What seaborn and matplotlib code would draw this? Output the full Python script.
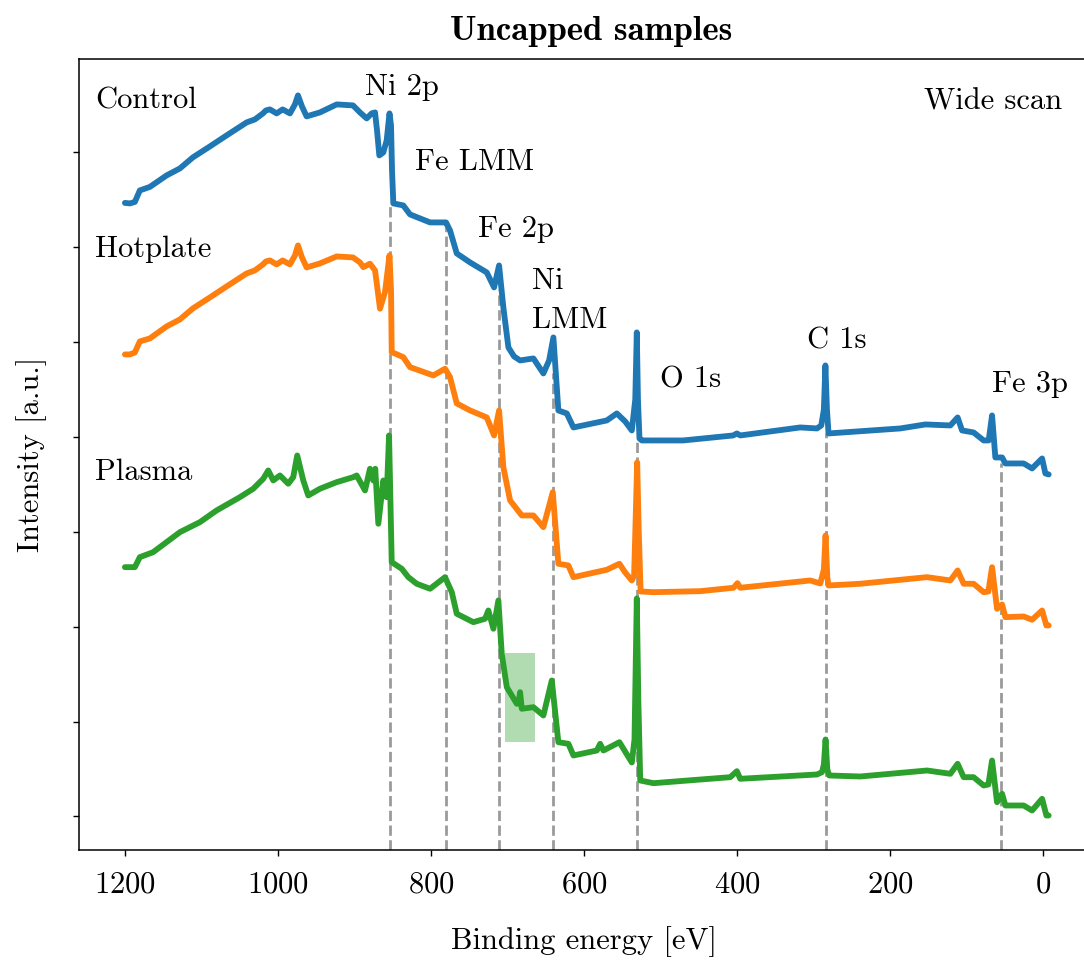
import numpy as np
import pandas as pd
import matplotlib
matplotlib.use("Agg")
import matplotlib.pyplot as plt
import seaborn as sns

# ---------------- data (binding energy in eV, intensity in a.u., curves already stacked) -------------
energy_control = [1200, 1193.5, 1187.0, 1180.5, 1167.4, 1145.5, 1128.1, 1111.2, 1088.9, 1067.1, 1040.9,
                  1030.1, 1019.6, 1015.7, 1010.5, 1001.7, 993.9, 984.3, 977.8, 973.8, 968.6, 962.5, 945.1,
                  923.2, 901.9, 892.8, 884.0, 877.5, 873.1, 870.5, 867.5, 862.3, 857.9, 854.2, 852.2, 850.9,
                  849.2, 836.2, 827.4, 801.2, 784.2, 780.3, 775.1, 766.3, 748.9, 727.1, 717.5, 711.0, 705.4,
                  698.8, 691.4, 683.5, 666.1, 653.1, 645.6, 640.0, 633.5, 622.5, 613.8, 570.2, 557.1, 546.2,
                  537.5, 533.0, 531.0, 529.5, 527.5, 524.4, 470.4, 405.0, 400.2, 395.8, 317.4, 295.5, 289.9,
                  286.5, 284.5, 282.5, 280.4, 186.6, 153.9, 121.2, 111.7, 105.9, 90.8, 77.7, 71.1, 66.7, 62.4,
                  53.6, 49.3, 25.4, 14.4, 1.3, -3.0, -7.3]
intensity_control = [646.5, 646, 647.5, 659, 662.5, 674, 681, 692, 703, 714, 727, 730, 736, 739, 740, 736,
                     740, 736, 745, 754, 743, 733, 737, 745, 744, 737, 731, 736, 737, 719, 694, 697, 709, 736,
                     724, 679, 646, 644, 635, 627, 627, 627, 619, 596, 587, 577, 562, 584, 542, 502, 493, 489,
                     491, 476, 489, 512, 439, 436, 422, 429, 436, 428, 419, 450, 517, 450, 411, 409, 409, 414,
                     416, 414, 422, 421, 424, 440, 484, 440, 416, 421, 425, 424, 432, 419, 417, 409, 409, 434,
                     392, 392, 386, 386, 381, 391, 376, 375]

energy_hotplate = [1200, 1193.5, 1187.0, 1180.5, 1167.4, 1145.5, 1128.1, 1111.2, 1088.9, 1067.1, 1040.9,
                   1030.1, 1019.6, 1015.7, 1010.5, 1001.7, 993.9, 984.3, 977.8, 973.8, 968.6, 962.5, 945.1,
                   923.2, 901.9, 892.8, 888.4, 879.7, 873.1, 870.5, 866.6, 860.1, 854.2, 852.2, 851.3, 836.2,
                   827.4, 796.9, 781.6, 775.1, 766.3, 748.9, 727.1, 717.5, 711.0, 705.4, 696.6, 681.3, 666.1,
                   653.1, 640.8, 633.5, 620.4, 613.8, 570.2, 553.7, 546.2, 537.5, 534.5, 530.5, 528.5, 526.0,
                   509.2, 448.1, 404.6, 399.4, 395.8, 304.3, 291.2, 286.5, 284.3, 282.0, 280.4, 238.9, 151.7,
                   121.2, 111.7, 103.8, 90.8, 77.7, 71.5, 66.7, 60.2, 53.6, 49.3, 25.4, 14.4, 1.3, -4.3, -7.3]
intensity_hotplate = [495, 495, 497, 508, 511, 523, 530, 541, 552, 563, 576, 579, 585, 588, 589, 585, 589,
                      585, 594, 604, 592, 582, 586, 593, 592, 587, 582.3, 585.7, 579, 564, 540.7, 557.3, 594,
                      559, 497.3, 492.3, 482.3, 474, 480.7, 472.3, 446, 439, 432, 414, 439, 382.3, 349, 334,
                      334, 322.3, 357.3, 285.7, 284, 272.3, 279.7, 285.7, 277, 269, 274, 387, 320, 258, 257.3,
                      258.3, 261.7, 266.3, 261.7, 269, 266, 280, 314, 272, 264, 265.7, 272.3, 269, 279, 265.7,
                      265.7, 257.3, 258, 282.3, 240.7, 245, 232.3, 233, 229.7, 239, 224, 224]

energy_plasma = [1200, 1187.0, 1180.5, 1163.1, 1128.1, 1102.0, 1080.2, 1049.7, 1032.3, 1019.2, 1012.7,
                 1006.1, 997.4, 986.5, 980.0, 974.8, 966.9, 960.4, 945.1, 923.2, 901.5, 897.1, 886.2, 879.7,
                 875.4, 872.8, 868.8, 862.3, 857.9, 854.8, 851.3, 838.2, 829.6, 818.6, 801.2, 781.6, 772.8,
                 766.3, 744.6, 729.3, 725.0, 718.4, 711.9, 707.5, 700.9, 687.8, 685.5, 683.5, 681.3, 666.1,
                 653.1, 642.1, 633.5, 620.4, 613.8, 583.2, 578.9, 574.6, 553.7, 537.5, 534.0, 531.0, 529.0,
                 526.5, 509.2, 408.9, 400.2, 395.8, 295.5, 289.0, 286.5, 284.3, 282.0, 279.5, 238.9, 151.7,
                 121.2, 111.7, 103.8, 90.8, 77.7, 71.5, 66.7, 60.2, 53.6, 49.3, 25.4, 14.4, 1.3, -4.3, -7.3]
intensity_plasma = [282.3, 282.3, 292.3, 297.3, 317.3, 327.3, 339, 352.3, 360.7, 370.7, 379, 369, 374,
                    365.7, 372.3, 394, 369, 354, 360.7, 367.3, 372.3, 374, 359, 380.7, 369, 380.7, 325.7, 369,
                    352.3, 414, 287.3, 280.7, 272.3, 265.7, 260.7, 272.3, 257.3, 235.7, 227.3, 230.7, 239,
                    220.7, 249, 195.7, 162.3, 145.7, 146, 157.3, 140.7, 142.3, 134, 169, 107.3, 105.7, 94, 99,
                    105.7, 99, 107.3, 87, 110, 251, 150, 69, 66.3, 72.3, 78.3, 70.7, 75, 77.3, 85, 110, 80,
                    74, 73, 79, 75.7, 85.7, 72.3, 72.3, 64, 65, 89, 47.3, 55.7, 44, 44, 39, 50.7, 34, 34]

samples = ["Control", "Hotplate", "Plasma"]
sample_colors = ["#1f77b4", "#ff7f0e", "#2ca02c"]

peak_names = ["Ni 2p", "Fe LMM", "Fe 2p", "Ni\nLMM", "O 1s", "C 1s", "Fe 3p"]
peak_energies = [853.5, 780.7, 710.6, 640.0, 530.9, 284.0, 54.5]
peak_line_tops = [646, 626, 559, 476, 409, 416, 386]

highlight_energy = [703.2, 663.9]
highlight_intensity = [107, 196]

# ---------------- style ----------------
sns.set_theme(style="ticks")
plt.rcParams.update({
    "font.family": ["cmr10", "DejaVu Serif"],
    "mathtext.fontset": "cm",
    "axes.unicode_minus": False,
    "axes.formatter.use_mathtext": True,
    "font.size": 22,
    "text.color": "black",
    "axes.labelcolor": "black",
    "axes.linewidth": 1.1,
    "axes.edgecolor": "black",
    "xtick.color": "black",
    "ytick.color": "black",
    "xtick.major.size": 4.5,
    "ytick.major.size": 4.5,
    "xtick.major.width": 1.0,
    "ytick.major.width": 1.0,
})

df = pd.concat([
    pd.DataFrame({"energy": e, "intensity": i, "sample": s})
    for e, i, s in [(energy_control, intensity_control, "Control"),
                    (energy_hotplate, intensity_hotplate, "Hotplate"),
                    (energy_plasma, intensity_plasma, "Plasma")]
], ignore_index=True)

fig = plt.figure(figsize=(10.84, 9.65), dpi=100)
ax = fig.add_axes([79 / 1084, (965 - 849.5) / 965, 1010 / 1084, (849.5 - 59.4) / 965])

ax.vlines(peak_energies, 0, peak_line_tops, colors="#9a9a9a", linestyles="--", linewidth=2.0, zorder=1)
ax.fill_between(highlight_energy, highlight_intensity[0], highlight_intensity[1],
                color=sample_colors[2], alpha=0.37, linewidth=0, zorder=1.5)

sns.lineplot(data=df, x="energy", y="intensity", hue="sample", hue_order=samples,
             palette=sample_colors, estimator=None, sort=False, linewidth=4.2,
             legend=False, ax=ax, zorder=3)

ax.set_xlim(1260, -60)
ax.set_ylim(0, 790)
ax.set_xticks([1200, 1000, 800, 600, 400, 200, 0])
ax.set_yticks(33 + 94.9 * np.arange(8))
ax.set_yticklabels([])
ax.tick_params(axis="x", labelsize=22, pad=11)
ax.set_xlabel("Binding energy [eV]", fontsize=22, labelpad=20)
ax.set_ylabel("Intensity [a.u.]", fontsize=22, labelpad=15)
ax.set_title("Uncapped samples", fontfamily="cmb10", fontsize=25, pad=14, x=0.507, color="black")

# peak labels
peak_label_pos = [(886.0, 754), (820.9, 679), (738.1, 612.3), (668.2, 521.7),
                  (500.5, 462.3), (308.6, 500.7), (66.7, 457.3)]
for name, (xe, yi) in zip(peak_names, peak_label_pos):
    ax.text(xe, yi, name, ha="left", va="baseline", fontsize=22, linespacing=1.55)

sample_label_pos = [(1239.3, 740.7), (1239.3, 592.3), (1239.3, 369)]
for name, (xe, yi) in zip(samples, sample_label_pos):
    ax.text(xe, yi, name, ha="left", va="baseline", fontsize=22)
ax.text(-24.8, 739.7, "Wide scan", ha="right", va="baseline", fontsize=22)

fig.savefig("out.png", dpi=100)
